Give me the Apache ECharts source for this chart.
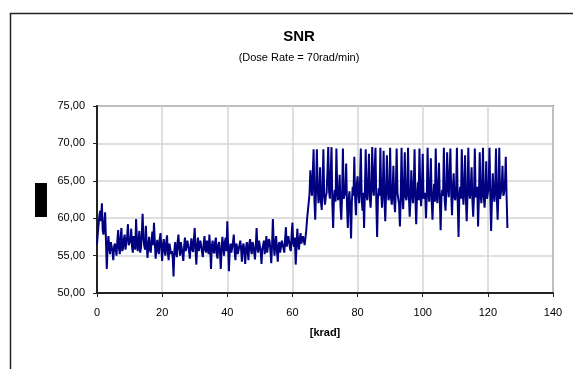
<!DOCTYPE html>
<html>
<head>
<meta charset="utf-8">
<script src="https://cdn.jsdelivr.net/npm/echarts@6/dist/echarts.min.js"></script>
<style>html,body{margin:0;padding:0;background:#fff}#c{width:573px;height:369px}</style>
</head>
<body>
<div id="c"></div>
<script>
const titleText = 'SNR';
const subtitleText = '(Dose Rate = 70rad/min)';
const xAxisName = '[krad]';
const xTicks = [0, 20, 40, 60, 80, 100, 120, 140];
const yTicks = [50, 55, 60, 65, 70, 75];

const dose = [
  0,0.25,0.5,0.75,1,1.25,1.5,1.75,2,2.25,2.5,2.75,3,3.25,3.5,3.75,4,4.25,4.5,4.75,
  5,5.25,5.5,5.75,6,6.25,6.5,6.75,7,7.25,7.5,7.75,8,8.25,8.5,8.75,9,9.25,9.5,9.75,
  10,10.25,10.5,10.75,11,11.25,11.5,11.75,12,12.25,12.5,12.75,13,13.25,13.5,13.75,14,14.25,14.5,14.75,
  15,15.25,15.5,15.75,16,16.25,16.5,16.75,17,17.25,17.5,17.75,18,18.25,18.5,18.75,19,19.25,19.5,19.75,
  20,20.25,20.5,20.75,21,21.25,21.5,21.75,22,22.25,22.5,22.75,23,23.25,23.5,23.75,24,24.25,24.5,24.75,
  25,25.25,25.5,25.75,26,26.25,26.5,26.75,27,27.25,27.5,27.75,28,28.25,28.5,28.75,29,29.25,29.5,29.75,
  30,30.25,30.5,30.75,31,31.25,31.5,31.75,32,32.25,32.5,32.75,33,33.25,33.5,33.75,34,34.25,34.5,34.75,
  35,35.25,35.5,35.75,36,36.25,36.5,36.75,37,37.25,37.5,37.75,38,38.25,38.5,38.75,39,39.25,39.5,39.75,
  40,40.25,40.5,40.75,41,41.25,41.5,41.75,42,42.25,42.5,42.75,43,43.25,43.5,43.75,44,44.25,44.5,44.75,
  45,45.25,45.5,45.75,46,46.25,46.5,46.75,47,47.25,47.5,47.75,48,48.25,48.5,48.75,49,49.25,49.5,49.75,
  50,50.25,50.5,50.75,51,51.25,51.5,51.75,52,52.25,52.5,52.75,53,53.25,53.5,53.75,54,54.25,54.5,54.75,
  55,55.25,55.5,55.75,56,56.25,56.5,56.75,57,57.25,57.5,57.75,58,58.25,58.5,58.75,59,59.25,59.5,59.75,
  60,60.25,60.5,60.75,61,61.25,61.5,61.75,62,62.25,62.5,62.75,63,63.25,63.5,63.75,64,64.25,64.5,64.75,
  65,65.25,65.5,65.75,66,66.25,66.5,66.75,67,67.25,67.5,67.75,68,68.25,68.5,68.75,69,69.25,69.5,69.75,
  70,70.25,70.5,70.75,71,71.25,71.5,71.75,72,72.25,72.5,72.75,73,73.25,73.5,73.75,74,74.25,74.5,74.75,
  75,75.25,75.5,75.75,76,76.25,76.5,76.75,77,77.25,77.5,77.75,78,78.25,78.5,78.75,79,79.25,79.5,79.75,
  80,80.25,80.5,80.75,81,81.25,81.5,81.75,82,82.25,82.5,82.75,83,83.25,83.5,83.75,84,84.25,84.5,84.75,
  85,85.25,85.5,85.75,86,86.25,86.5,86.75,87,87.25,87.5,87.75,88,88.25,88.5,88.75,89,89.25,89.5,89.75,
  90,90.25,90.5,90.75,91,91.25,91.5,91.75,92,92.25,92.5,92.75,93,93.25,93.5,93.75,94,94.25,94.5,94.75,
  95,95.25,95.5,95.75,96,96.25,96.5,96.75,97,97.25,97.5,97.75,98,98.25,98.5,98.75,99,99.25,99.5,99.75,
  100,100.25,100.5,100.75,101,101.25,101.5,101.75,102,102.25,102.5,102.75,103,103.25,103.5,103.75,104,104.25,104.5,104.75,
  105,105.25,105.5,105.75,106,106.25,106.5,106.75,107,107.25,107.5,107.75,108,108.25,108.5,108.75,109,109.25,109.5,109.75,
  110,110.25,110.5,110.75,111,111.25,111.5,111.75,112,112.25,112.5,112.75,113,113.25,113.5,113.75,114,114.25,114.5,114.75,
  115,115.25,115.5,115.75,116,116.25,116.5,116.75,117,117.25,117.5,117.75,118,118.25,118.5,118.75,119,119.25,119.5,119.75,
  120,120.25,120.5,120.75,121,121.25,121.5,121.75,122,122.25,122.5,122.75,123,123.25,123.5,123.75,124,124.25,124.5,124.75,
  125,125.25,125.5,125.75,126
];

const snr = [
  56.5,58.0,59.2,60.4,61.0,59.6,62.0,58.4,57.8,59.4,60.8,57.0,53.2,56.0,57.6,56.2,55.2,56.8,57.0,55.6,
  54.4,56.2,56.6,55.8,55.0,57.0,58.4,56.0,55.2,57.4,58.7,55.6,56.0,57.2,57.8,55.8,55.6,57.6,59.2,56.4,
  56.4,57.0,58.6,56.2,55.4,57.6,57.4,55.8,59.9,57.2,55.6,56.8,58.3,55.4,56.0,57.8,60.6,57.4,56.3,55.8,
  59.0,56.6,54.7,56.2,57.5,55.8,55.4,57.0,58.2,56.4,59.4,56.8,54.6,56.0,57.1,55.6,55.2,57.2,58.0,56.0,
  54.3,56.4,57.2,55.6,55.0,56.8,57.7,55.4,54.4,56.6,56.8,55.2,55.6,54.8,52.2,55.6,56.8,55.4,54.8,56.8,
  57.8,56.0,55.0,56.8,56.6,55.2,54.3,56.2,57.4,55.6,55.4,57.0,56.9,55.6,54.6,56.4,57.3,55.8,55.5,57.2,
  58.7,55.8,53.8,56.2,57.4,55.6,55.6,57.0,56.9,55.4,54.8,56.6,57.6,55.8,55.4,57.0,56.6,55.2,57.8,56.0,
  53.2,56.2,57.0,55.6,55.3,56.8,57.4,55.2,54.6,56.4,56.8,55.4,53.2,55.8,57.5,56.2,55.0,56.8,57.4,55.6,
  59.6,56.4,52.9,55.8,56.6,55.4,55.2,56.8,57.8,55.6,54.4,56.6,56.2,55.2,55.0,56.4,57.0,55.8,54.2,56.2,
  56.6,55.4,53.9,56.0,56.8,55.6,54.4,56.6,57.2,55.8,55.2,56.8,56.4,55.4,54.5,56.2,58.7,56.0,55.4,57.0,
  57.0,55.6,53.9,55.8,56.4,57.0,55.2,56.2,57.6,55.4,55.6,57.2,56.9,55.6,54.0,56.4,59.9,56.6,55.0,56.8,
  57.6,55.6,54.2,56.4,56.8,55.4,55.6,57.0,57.2,56.0,55.4,57.2,58.8,56.2,56.0,57.6,57.4,56.0,55.6,57.8,
  59.4,56.6,56.2,57.4,53.8,56.0,58.6,56.8,55.8,57.2,58.0,56.6,56.4,57.6,57.8,56.4,56.6,58.4,59.9,60.0,
  60.1,63.2,66.4,64.6,63.0,66.0,69.2,62.4,59.8,63.8,69.2,64.2,62.0,63.1,66.8,62.2,61.1,64.0,69.2,63.0,
  61.8,62.9,63.4,66.2,69.5,63.6,62.6,66.0,69.5,62.0,58.7,62.8,63.8,62.2,69.3,64.0,62.4,63.2,65.8,61.6,
  59.8,63.0,69.3,62.6,62.8,63.6,67.3,61.8,58.7,62.4,63.6,61.0,57.3,62.2,64.2,63.0,68.2,62.6,60.4,64.4,
  65.6,63.2,62.0,64.8,69.3,62.8,61.0,63.4,58.7,63.6,69.2,63.0,62.4,64.6,68.6,62.8,61.4,63.8,69.5,64.2,
  63.0,66.8,69.4,62.2,57.5,62.6,64.0,63.0,69.4,63.4,61.4,64.0,69.0,62.6,59.6,63.2,68.4,64.0,62.4,63.0,
  69.4,62.8,61.8,63.6,67.0,62.2,60.8,64.0,69.3,63.4,62.6,61.8,58.9,62.6,69.4,63.2,61.2,64.4,68.8,62.8,
  62.4,63.6,69.4,63.0,60.2,62.4,66.4,63.6,62.0,64.2,69.2,62.6,59.2,63.0,64.8,62.4,69.3,63.8,61.6,64.0,
  68.6,62.6,62.8,63.4,60.0,62.8,69.4,63.6,62.2,64.2,68.0,62.4,59.8,63.0,64.6,62.2,69.3,63.4,62.0,64.0,
  67.4,62.6,58.4,62.8,63.8,63.0,69.4,62.4,61.0,63.6,68.8,64.2,62.8,62.6,69.3,63.2,60.4,64.0,66.0,62.8,
  62.4,63.6,69.4,62.2,57.5,63.0,64.2,62.6,69.2,63.8,61.8,64.4,68.4,62.6,59.6,63.0,69.4,63.6,62.6,64.0,
  66.8,62.4,60.2,63.2,69.3,62.8,63.0,64.2,58.9,62.6,68.8,63.4,62.0,64.0,69.4,62.8,61.4,63.6,67.6,62.6,
  62.8,64.2,69.4,63.0,58.3,62.4,66.0,63.6,62.2,64.0,69.3,62.8,59.8,63.4,69.4,62.6,62.6,64.2,67.0,63.0,
  63.4,64.6,68.2,63.0,58.7
];

const FONT = '"Liberation Sans", Arial, sans-serif';
const chart = echarts.init(document.getElementById('c'), null, {renderer: 'canvas'});
const points = dose.map((d, i) => [d, snr[i]]);

chart.setOption({
  animation: false,
  backgroundColor: '#fff',
  title: {
    text: titleText,
    subtext: subtitleText,
    left: 294,
    top: 24,
    textAlign: 'center',
    itemGap: 8,
    textStyle: {fontFamily: FONT, fontSize: 15, fontWeight: 'bold', color: '#000'},
    subtextStyle: {fontFamily: FONT, fontSize: 11, color: '#000'}
  },
  graphic: [
    {type: 'rect', left: 8, top: 11, shape: {x: 0, y: 0, width: 620, height: 420},
     style: {fill: 'none', stroke: '#222', lineWidth: 1.5}, silent: true},
    {type: 'rect', left: 35, top: 183, shape: {x: 0, y: 0, width: 12, height: 34},
     style: {fill: '#000'}, silent: true}
  ],
  grid: {
    left: 97, right: 20, top: 106, bottom: 76,
    show: true, borderColor: '#808080', borderWidth: 2, backgroundColor: '#fff'
  },
  xAxis: {
    type: 'value',
    min: xTicks[0], max: xTicks[xTicks.length - 1], interval: 20,
    name: xAxisName,
    nameLocation: 'middle',
    nameGap: 34,
    nameTextStyle: {fontFamily: FONT, fontSize: 11, fontWeight: 'bold', color: '#000'},
    axisLine: {show: true, lineStyle: {color: '#222', width: 2}},
    axisTick: {show: true, length: 4, lineStyle: {color: '#222', width: 1}},
    axisLabel: {fontFamily: FONT, fontSize: 11, color: '#000', margin: 14},
    splitLine: {show: true, lineStyle: {color: '#d4d4d4', width: 1.5}}
  },
  yAxis: {
    type: 'value',
    min: yTicks[0], max: yTicks[yTicks.length - 1], interval: 5,
    axisLine: {show: true, lineStyle: {color: '#222', width: 2}},
    axisTick: {show: true, length: 4, lineStyle: {color: '#222', width: 1}},
    axisLabel: {fontFamily: FONT, fontSize: 11, color: '#000', margin: 12,
      formatter: v => v.toFixed(2).replace('.', ',')},
    splitLine: {show: true, lineStyle: {color: '#d4d4d4', width: 1.5}}
  },
  series: [{
    type: 'line',
    data: points,
    showSymbol: false,
    symbol: 'none',
    lineStyle: {color: '#000080', width: 2},
    itemStyle: {color: '#000080'}
  }]
});
</script>
</body>
</html>
